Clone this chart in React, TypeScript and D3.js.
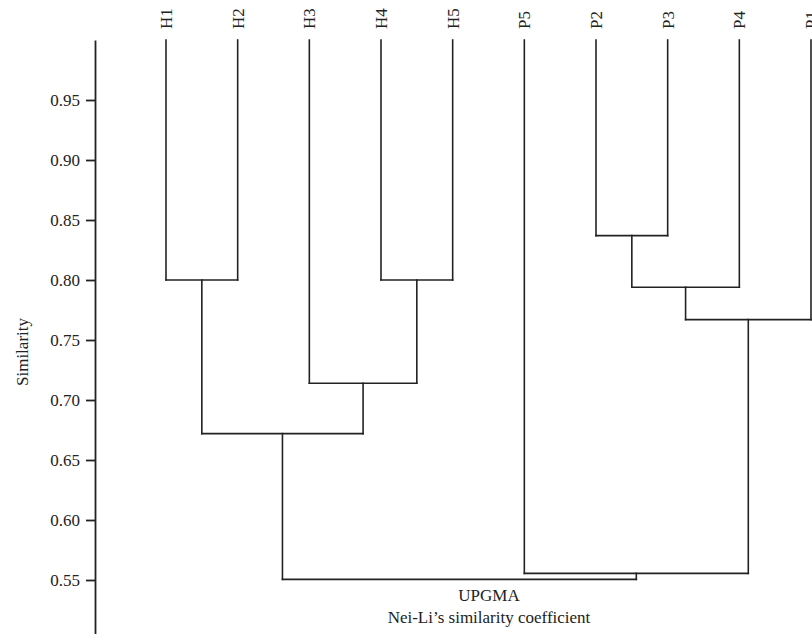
import { useRef, useEffect } from "react";
import * as d3 from "d3";

const LEAF_LABELS = ["H1", "H2", "H3", "H4", "H5", "P5", "P2", "P3", "P4", "P1"];
const MERGE_IDS = ["m1", "m2", "m3", "m4", "m5", "m6", "m7", "m8", "m9"];
const MERGE_LEFT = ["H1", "H4", "H3", "m1", "P2", "m5", "m6", "P5", "m4"];
const MERGE_RIGHT = ["H2", "H5", "m2", "m3", "P3", "P4", "P1", "m7", "m8"];
const MERGE_SIMILARITY = [0.8, 0.8, 0.714, 0.672, 0.837, 0.794, 0.767, 0.5555, 0.5505];
const Y_TICKS = [0.55, 0.6, 0.65, 0.7, 0.75, 0.8, 0.85, 0.9, 0.95];

const FONT = "'Liberation Serif', 'Times New Roman', serif";
const INK = "#222";

export default function App() {
  const svgRef = useRef<SVGSVGElement>(null);

  useEffect(() => {
    if (!svgRef.current) return;
    const width = 812;
    const height = 634;

    const svg = d3.select(svgRef.current);
    svg.selectAll("*").remove();
    svg.attr("width", width).attr("height", height).attr("viewBox", `0 0 ${width} ${height}`);

    const x = d3.scalePoint<string>().domain(LEAF_LABELS).range([166, 811]);
    const y = d3.scaleLinear().domain([0.5, 1.0]).range([640, 40]);

    // node positions: leaves sit at similarity 1.0
    const pos = new Map<string, { x: number; s: number }>();
    LEAF_LABELS.forEach((l) => pos.set(l, { x: x(l) ?? 0, s: 1.0 }));

    const links: [number, number, number, number][] = [];
    MERGE_IDS.forEach((id, i) => {
      const a = pos.get(MERGE_LEFT[i])!;
      const b = pos.get(MERGE_RIGHT[i])!;
      const s = MERGE_SIMILARITY[i];
      const yy = y(s);
      links.push([a.x, y(a.s), a.x, yy]);
      links.push([b.x, y(b.s), b.x, yy]);
      links.push([a.x, yy, b.x, yy]);
      pos.set(id, { x: (a.x + b.x) / 2, s });
    });

    // y axis
    const axis = svg
      .append("g")
      .attr("transform", "translate(95,0)")
      .call(
        d3
          .axisLeft(y)
          .tickValues(Y_TICKS)
          .tickFormat(d3.format(".2f"))
          .tickSize(9)
          .tickSizeOuter(0)
          .tickPadding(6)
      );
    axis.select(".domain").attr("stroke", INK).attr("stroke-width", 1.8);
    axis.selectAll(".tick line").attr("stroke", INK).attr("stroke-width", 1.8);
    axis
      .selectAll(".tick text")
      .attr("fill", INK)
      .style("font-family", FONT)
      .style("font-size", "17px");

    svg
      .append("text")
      .attr("transform", "translate(28,352) rotate(-90)")
      .attr("text-anchor", "middle")
      .style("font-family", FONT)
      .style("font-size", "17px")
      .attr("fill", INK)
      .text("Similarity");

    // dendrogram
    svg
      .append("g")
      .selectAll("line")
      .data(links)
      .join("line")
      .attr("x1", (d) => d[0])
      .attr("y1", (d) => d[1])
      .attr("x2", (d) => d[2])
      .attr("y2", (d) => d[3])
      .attr("stroke", INK)
      .attr("stroke-width", 1.6)
      .attr("stroke-linecap", "square");

    // leaf labels
    svg
      .append("g")
      .selectAll("text")
      .data(LEAF_LABELS)
      .join("text")
      .attr("transform", (d) => `translate(${x(d)},29) rotate(-90)`)
      .attr("dy", "0.35em")
      .attr("text-anchor", "start")
      .style("font-family", FONT)
      .style("font-size", "17px")
      .attr("fill", INK)
      .text((d) => d);

    svg
      .append("text")
      .attr("x", 489)
      .attr("y", 601)
      .attr("text-anchor", "middle")
      .style("font-family", FONT)
      .style("font-size", "17px")
      .attr("fill", INK)
      .text("UPGMA");

    svg
      .append("text")
      .attr("x", 489)
      .attr("y", 623)
      .attr("text-anchor", "middle")
      .style("font-family", FONT)
      .style("font-size", "17px")
      .attr("fill", INK)
      .text("Nei-Li\u2019s similarity coefficient");
  }, []);

  return (
    <svg
      ref={svgRef}
      style={{ position: "absolute", left: 0, top: 0, background: "#fff", display: "block" }}
    />
  );
}
